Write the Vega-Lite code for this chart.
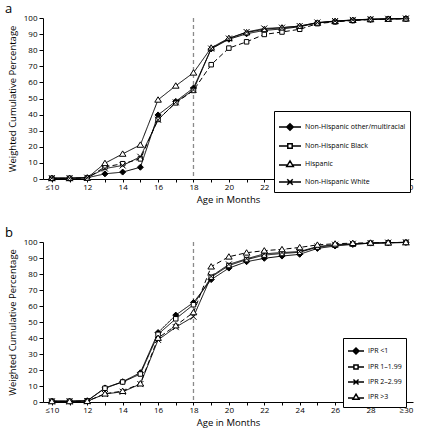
{
"$schema": "https://vega.github.io/schema/vega-lite/v6.json",
"padding": {"left": 5, "top": 3, "right": 5, "bottom": 2},
"background": "white",
"config": {
  "view": {"stroke": null},
  "font": "Open Sans",
  "axis": {"domainColor": "black", "tickColor": "black", "labelColor": "black", "titleColor": "black", "labelFontSize": 8, "titleFontSize": 9.5, "titleFontWeight": "normal", "grid": false, "labelFlush": false, "labelOverlap": false},
  "title": {"fontSize": 13, "fontWeight": "normal", "anchor": "start", "frame": "group", "dx": -38, "offset": -3, "color": "black"},
  "legend": {"title": null, "strokeColor": "black", "fillColor": "white", "labelFontSize": 7, "labelColor": "black", "labelLimit": 300, "labelOffset": 3}
},
"datasets": {
  "a": [
    {"group": "Non-Hispanic other/multiracial", "age": 10, "pct": 0.5}, {"group": "Non-Hispanic other/multiracial", "age": 11, "pct": 0.5}, {"group": "Non-Hispanic other/multiracial", "age": 12, "pct": 0.8}, {"group": "Non-Hispanic other/multiracial", "age": 13, "pct": 3.2}, {"group": "Non-Hispanic other/multiracial", "age": 14, "pct": 4.3}, {"group": "Non-Hispanic other/multiracial", "age": 15, "pct": 7.3}, {"group": "Non-Hispanic other/multiracial", "age": 16, "pct": 39.8}, {"group": "Non-Hispanic other/multiracial", "age": 17, "pct": 48.2}, {"group": "Non-Hispanic other/multiracial", "age": 18, "pct": 56.5}, {"group": "Non-Hispanic other/multiracial", "age": 19, "pct": 80.8}, {"group": "Non-Hispanic other/multiracial", "age": 20, "pct": 86.8}, {"group": "Non-Hispanic other/multiracial", "age": 21, "pct": 90.2}, {"group": "Non-Hispanic other/multiracial", "age": 22, "pct": 92.3}, {"group": "Non-Hispanic other/multiracial", "age": 23, "pct": 93.2}, {"group": "Non-Hispanic other/multiracial", "age": 24, "pct": 94.6}, {"group": "Non-Hispanic other/multiracial", "age": 25, "pct": 96.9}, {"group": "Non-Hispanic other/multiracial", "age": 26, "pct": 97.9}, {"group": "Non-Hispanic other/multiracial", "age": 27, "pct": 98.6}, {"group": "Non-Hispanic other/multiracial", "age": 28, "pct": 99.1}, {"group": "Non-Hispanic other/multiracial", "age": 29, "pct": 99.4}, {"group": "Non-Hispanic other/multiracial", "age": 30, "pct": 99.6},
    {"group": "Non-Hispanic Black", "age": 10, "pct": 0.4}, {"group": "Non-Hispanic Black", "age": 11, "pct": 0.4}, {"group": "Non-Hispanic Black", "age": 12, "pct": 0.6}, {"group": "Non-Hispanic Black", "age": 13, "pct": 7.5}, {"group": "Non-Hispanic Black", "age": 14, "pct": 9.5}, {"group": "Non-Hispanic Black", "age": 15, "pct": 12.5}, {"group": "Non-Hispanic Black", "age": 16, "pct": 37}, {"group": "Non-Hispanic Black", "age": 17, "pct": 47.3}, {"group": "Non-Hispanic Black", "age": 18, "pct": 55}, {"group": "Non-Hispanic Black", "age": 19, "pct": 71}, {"group": "Non-Hispanic Black", "age": 20, "pct": 81.3}, {"group": "Non-Hispanic Black", "age": 21, "pct": 85.2}, {"group": "Non-Hispanic Black", "age": 22, "pct": 89.8}, {"group": "Non-Hispanic Black", "age": 23, "pct": 91.3}, {"group": "Non-Hispanic Black", "age": 24, "pct": 93}, {"group": "Non-Hispanic Black", "age": 25, "pct": 96.5}, {"group": "Non-Hispanic Black", "age": 26, "pct": 97.6}, {"group": "Non-Hispanic Black", "age": 27, "pct": 98.4}, {"group": "Non-Hispanic Black", "age": 28, "pct": 99}, {"group": "Non-Hispanic Black", "age": 29, "pct": 99.3}, {"group": "Non-Hispanic Black", "age": 30, "pct": 99.5},
    {"group": "Hispanic", "age": 10, "pct": 0.5}, {"group": "Hispanic", "age": 11, "pct": 0.5}, {"group": "Hispanic", "age": 12, "pct": 0.7}, {"group": "Hispanic", "age": 13, "pct": 9.8}, {"group": "Hispanic", "age": 14, "pct": 15.6}, {"group": "Hispanic", "age": 15, "pct": 21.2}, {"group": "Hispanic", "age": 16, "pct": 49.2}, {"group": "Hispanic", "age": 17, "pct": 57.9}, {"group": "Hispanic", "age": 18, "pct": 66}, {"group": "Hispanic", "age": 19, "pct": 81.5}, {"group": "Hispanic", "age": 20, "pct": 87.5}, {"group": "Hispanic", "age": 21, "pct": 91}, {"group": "Hispanic", "age": 22, "pct": 93}, {"group": "Hispanic", "age": 23, "pct": 94}, {"group": "Hispanic", "age": 24, "pct": 95}, {"group": "Hispanic", "age": 25, "pct": 97}, {"group": "Hispanic", "age": 26, "pct": 98}, {"group": "Hispanic", "age": 27, "pct": 98.7}, {"group": "Hispanic", "age": 28, "pct": 99.2}, {"group": "Hispanic", "age": 29, "pct": 99.4}, {"group": "Hispanic", "age": 30, "pct": 99.6},
    {"group": "Non-Hispanic White", "age": 10, "pct": 0.5}, {"group": "Non-Hispanic White", "age": 11, "pct": 0.5}, {"group": "Non-Hispanic White", "age": 12, "pct": 0.8}, {"group": "Non-Hispanic White", "age": 13, "pct": 6.5}, {"group": "Non-Hispanic White", "age": 14, "pct": 8.4}, {"group": "Non-Hispanic White", "age": 15, "pct": 13.8}, {"group": "Non-Hispanic White", "age": 16, "pct": 36.8}, {"group": "Non-Hispanic White", "age": 17, "pct": 47.6}, {"group": "Non-Hispanic White", "age": 18, "pct": 55.3}, {"group": "Non-Hispanic White", "age": 19, "pct": 81}, {"group": "Non-Hispanic White", "age": 20, "pct": 87.2}, {"group": "Non-Hispanic White", "age": 21, "pct": 91.3}, {"group": "Non-Hispanic White", "age": 22, "pct": 93.5}, {"group": "Non-Hispanic White", "age": 23, "pct": 94}, {"group": "Non-Hispanic White", "age": 24, "pct": 95}, {"group": "Non-Hispanic White", "age": 25, "pct": 97.2}, {"group": "Non-Hispanic White", "age": 26, "pct": 98.1}, {"group": "Non-Hispanic White", "age": 27, "pct": 98.8}, {"group": "Non-Hispanic White", "age": 28, "pct": 99.3}, {"group": "Non-Hispanic White", "age": 29, "pct": 99.5}, {"group": "Non-Hispanic White", "age": 30, "pct": 99.7}
  ],
  "b": [
    {"group": "IPR <1", "age": 10, "pct": 0.6}, {"group": "IPR <1", "age": 11, "pct": 0.5}, {"group": "IPR <1", "age": 12, "pct": 0.8}, {"group": "IPR <1", "age": 13, "pct": 8.8}, {"group": "IPR <1", "age": 14, "pct": 12.7}, {"group": "IPR <1", "age": 15, "pct": 18.3}, {"group": "IPR <1", "age": 16, "pct": 43.4}, {"group": "IPR <1", "age": 17, "pct": 54.3}, {"group": "IPR <1", "age": 18, "pct": 62.2}, {"group": "IPR <1", "age": 19, "pct": 76.5}, {"group": "IPR <1", "age": 20, "pct": 83.7}, {"group": "IPR <1", "age": 21, "pct": 87.7}, {"group": "IPR <1", "age": 22, "pct": 89.8}, {"group": "IPR <1", "age": 23, "pct": 91.2}, {"group": "IPR <1", "age": 24, "pct": 92.3}, {"group": "IPR <1", "age": 25, "pct": 96}, {"group": "IPR <1", "age": 26, "pct": 97.5}, {"group": "IPR <1", "age": 27, "pct": 98.5}, {"group": "IPR <1", "age": 28, "pct": 99.3}, {"group": "IPR <1", "age": 29, "pct": 99.5}, {"group": "IPR <1", "age": 30, "pct": 99.7},
    {"group": "IPR 1–1.99", "age": 10, "pct": 0.5}, {"group": "IPR 1–1.99", "age": 11, "pct": 0.5}, {"group": "IPR 1–1.99", "age": 12, "pct": 0.7}, {"group": "IPR 1–1.99", "age": 13, "pct": 8.6}, {"group": "IPR 1–1.99", "age": 14, "pct": 12.5}, {"group": "IPR 1–1.99", "age": 15, "pct": 17.5}, {"group": "IPR 1–1.99", "age": 16, "pct": 42.3}, {"group": "IPR 1–1.99", "age": 17, "pct": 52}, {"group": "IPR 1–1.99", "age": 18, "pct": 60.8}, {"group": "IPR 1–1.99", "age": 19, "pct": 78}, {"group": "IPR 1–1.99", "age": 20, "pct": 85.3}, {"group": "IPR 1–1.99", "age": 21, "pct": 89}, {"group": "IPR 1–1.99", "age": 22, "pct": 91.8}, {"group": "IPR 1–1.99", "age": 23, "pct": 92.8}, {"group": "IPR 1–1.99", "age": 24, "pct": 93.6}, {"group": "IPR 1–1.99", "age": 25, "pct": 96.8}, {"group": "IPR 1–1.99", "age": 26, "pct": 98}, {"group": "IPR 1–1.99", "age": 27, "pct": 98.7}, {"group": "IPR 1–1.99", "age": 28, "pct": 99.2}, {"group": "IPR 1–1.99", "age": 29, "pct": 99.5}, {"group": "IPR 1–1.99", "age": 30, "pct": 99.7},
    {"group": "IPR 2–2.99", "age": 10, "pct": 0.4}, {"group": "IPR 2–2.99", "age": 11, "pct": 0.4}, {"group": "IPR 2–2.99", "age": 12, "pct": 0.5}, {"group": "IPR 2–2.99", "age": 13, "pct": 5}, {"group": "IPR 2–2.99", "age": 14, "pct": 6.4}, {"group": "IPR 2–2.99", "age": 15, "pct": 11.2}, {"group": "IPR 2–2.99", "age": 16, "pct": 38.8}, {"group": "IPR 2–2.99", "age": 17, "pct": 46.8}, {"group": "IPR 2–2.99", "age": 18, "pct": 53.3}, {"group": "IPR 2–2.99", "age": 19, "pct": 78.5}, {"group": "IPR 2–2.99", "age": 20, "pct": 86}, {"group": "IPR 2–2.99", "age": 21, "pct": 89.5}, {"group": "IPR 2–2.99", "age": 22, "pct": 92.6}, {"group": "IPR 2–2.99", "age": 23, "pct": 93.4}, {"group": "IPR 2–2.99", "age": 24, "pct": 94}, {"group": "IPR 2–2.99", "age": 25, "pct": 97.2}, {"group": "IPR 2–2.99", "age": 26, "pct": 98.3}, {"group": "IPR 2–2.99", "age": 27, "pct": 98.9}, {"group": "IPR 2–2.99", "age": 28, "pct": 99.3}, {"group": "IPR 2–2.99", "age": 29, "pct": 99.6}, {"group": "IPR 2–2.99", "age": 30, "pct": 99.8},
    {"group": "IPR >3", "age": 10, "pct": 0.4}, {"group": "IPR >3", "age": 11, "pct": 0.4}, {"group": "IPR >3", "age": 12, "pct": 0.5}, {"group": "IPR >3", "age": 13, "pct": 5.2}, {"group": "IPR >3", "age": 14, "pct": 6.8}, {"group": "IPR >3", "age": 15, "pct": 11.5}, {"group": "IPR >3", "age": 16, "pct": 40}, {"group": "IPR >3", "age": 17, "pct": 47.8}, {"group": "IPR >3", "age": 18, "pct": 56}, {"group": "IPR >3", "age": 19, "pct": 84.6}, {"group": "IPR >3", "age": 20, "pct": 90.8}, {"group": "IPR >3", "age": 21, "pct": 93.3}, {"group": "IPR >3", "age": 22, "pct": 94.6}, {"group": "IPR >3", "age": 23, "pct": 95.4}, {"group": "IPR >3", "age": 24, "pct": 96.6}, {"group": "IPR >3", "age": 25, "pct": 98.2}, {"group": "IPR >3", "age": 26, "pct": 98.9}, {"group": "IPR >3", "age": 27, "pct": 99.3}, {"group": "IPR >3", "age": 28, "pct": 99.5}, {"group": "IPR >3", "age": 29, "pct": 99.6}, {"group": "IPR >3", "age": 30, "pct": 99.8}
  ],
  "cut": [{"age": 18}]
},
"spacing": 23,
"resolve": {"scale": {"shape": "independent", "fill": "independent", "strokeDash": "independent"}, "legend": {"shape": "independent", "fill": "independent", "strokeDash": "independent"}},
"vconcat": [
  {
    "title": {"text": "a"},
    "width": 370, "height": 161,
    "data": {"name": "a"},
    "encoding": {
      "x": {"field": "age", "type": "quantitative", "scale": {"domain": [9.5, 30.4], "nice": false, "zero": false},
        "axis": {"values": [10,11,12,13,14,15,16,17,18,19,20,21,22,23,24,25,26,27,28,29,30], "labelExpr": "datum.value == 10 ? '≤10' : datum.value == 30 ? '≥30' : (datum.value % 2 == 0 ? datum.label : '')", "title": "Age in Months", "tickSize": 3, "labelPadding": 1, "titlePadding": 3}},
      "y": {"field": "pct", "type": "quantitative", "scale": {"domain": [0, 100], "nice": false},
        "axis": {"values": [0,10,20,30,40,50,60,70,80,90,100], "title": "Weighted Cumulative Percentage", "tickSize": 4, "labelPadding": 2, "titlePadding": 6}}
    },
    "resolve": {"scale": {"shape": "independent"}, "legend": {"shape": "independent"}},
    "layer": [
      {"data": {"name": "cut"}, "mark": {"type": "rule", "color": "#8a8a8a", "strokeDash": [4, 3], "strokeWidth": 1.3}, "encoding": {"y": {"value": 0}, "y2": {"value": 161}}},
      {"mark": {"type": "line", "color": "black", "strokeWidth": 1},
       "encoding": {"detail": {"field": "group"},
         "strokeDash": {"field": "group", "type": "nominal", "scale": {"domain": ["Non-Hispanic Black", "Hispanic", "Non-Hispanic White", "Non-Hispanic other/multiracial"], "range": [[5, 3], [1, 0], [1, 0], [1, 0]]}, "legend": null}}},
      {"mark": {"type": "point", "filled": true, "stroke": "black", "strokeWidth": 1, "size": 36, "opacity": 1},
       "encoding": {
         "shape": {"field": "group", "type": "nominal", "scale": {"domain": ["Non-Hispanic other/multiracial", "Non-Hispanic Black", "Hispanic", "Non-Hispanic White"], "range": ["M0,-1L1,0L0,1L-1,0Z", "M-0.75,-0.75H0.75V0.75H-0.75Z", "M0,-1L1.1,0.8H-1.1Z", "M-1,-1L1,1M-1,1L1,-1"]}, "legend": null},
         "fill": {"field": "group", "type": "nominal", "scale": {"domain": ["Hispanic", "Non-Hispanic White", "Non-Hispanic Black", "Non-Hispanic other/multiracial"], "range": ["white", "white", "white", "black"]}, "legend": null}
       }},
      {"transform": [{"filter": "datum.age > 100"}],
       "mark": {"type": "point", "filled": true, "fill": "white", "stroke": "black", "strokeWidth": 1.1, "size": 484, "opacity": 1},
       "encoding": {
         "shape": {"field": "group", "type": "nominal", "scale": {"domain": ["Non-Hispanic other/multiracial", "Non-Hispanic Black", "Hispanic", "Non-Hispanic White"], "range": [
           "M-1,0L-0.3,0M0.3,0L1,0M0,-0.3L0.3,0L0,0.3L-0.3,0ZM0,-0.17L0.17,0L0,0.17L-0.17,0ZM-0.06,0L0.06,0",
           "M-1,0L-0.2,0M0.2,0L1,0M-0.2,-0.2L0.2,-0.2L0.2,0.2L-0.2,0.2Z",
           "M-1,0.1L-0.23,0.1M0.23,0.1L1,0.1M0,-0.28L0.3,0.22L-0.3,0.22Z",
           "M-1,0L1,0M-0.25,-0.25L0.25,0.25M-0.25,0.25L0.25,-0.25"]},
           "legend": {"orient": "none", "legendX": 231, "legendY": 93, "padding": 4, "symbolSize": 484, "rowPadding": -7}}
       }}
    ]
  },
  {
    "title": {"text": "b"},
    "width": 370, "height": 160,
    "data": {"name": "b"},
    "encoding": {
      "x": {"field": "age", "type": "quantitative", "scale": {"domain": [9.5, 30.4], "nice": false, "zero": false},
        "axis": {"values": [10,11,12,13,14,15,16,17,18,19,20,21,22,23,24,25,26,27,28,29,30], "labelExpr": "datum.value == 10 ? '≤10' : datum.value == 30 ? '≥30' : (datum.value % 2 == 0 ? datum.label : '')", "title": "Age in Months", "tickSize": 3, "labelPadding": 1, "titlePadding": 3}},
      "y": {"field": "pct", "type": "quantitative", "scale": {"domain": [0, 100], "nice": false},
        "axis": {"values": [0,10,20,30,40,50,60,70,80,90,100], "title": "Weighted Cumulative Percentage", "tickSize": 4, "labelPadding": 2, "titlePadding": 6}}
    },
    "resolve": {"scale": {"shape": "independent"}, "legend": {"shape": "independent"}},
    "layer": [
      {"data": {"name": "cut"}, "mark": {"type": "rule", "color": "#8a8a8a", "strokeDash": [4, 3], "strokeWidth": 1.3}, "encoding": {"y": {"value": 0}, "y2": {"value": 160}}},
      {"mark": {"type": "line", "color": "black", "strokeWidth": 1},
       "encoding": {"detail": {"field": "group"},
         "strokeDash": {"field": "group", "type": "nominal", "scale": {"domain": ["IPR >3", "IPR <1", "IPR 1–1.99", "IPR 2–2.99"], "range": [[5, 3], [1, 0], [1, 0], [1, 0]]}, "legend": null}}},
      {"mark": {"type": "point", "filled": true, "stroke": "black", "strokeWidth": 1, "size": 36, "opacity": 1},
       "encoding": {
         "shape": {"field": "group", "type": "nominal", "scale": {"domain": ["IPR <1", "IPR 1–1.99", "IPR 2–2.99", "IPR >3"], "range": ["M0,-1L1,0L0,1L-1,0Z", "M-0.75,-0.75H0.75V0.75H-0.75Z", "M-1,-1L1,1M-1,1L1,-1", "M0,-1L1.1,0.8H-1.1Z"]}, "legend": null},
         "fill": {"field": "group", "type": "nominal", "scale": {"domain": ["IPR 2–2.99", "IPR >3", "IPR 1–1.99", "IPR <1"], "range": ["white", "white", "white", "black"]}, "legend": null}
       }},
      {"transform": [{"filter": "datum.age > 100"}],
       "mark": {"type": "point", "filled": true, "fill": "white", "stroke": "black", "strokeWidth": 1, "size": 256, "opacity": 1},
       "encoding": {
         "shape": {"field": "group", "type": "nominal", "scale": {"domain": ["IPR <1", "IPR 1–1.99", "IPR 2–2.99", "IPR >3"], "range": [
           "M-1,0L-0.38,0M0.38,0L1,0M0,-0.38L0.38,0L0,0.38L-0.38,0ZM0,-0.22L0.22,0L0,0.22L-0.22,0ZM-0.08,0L0.08,0",
           "M-1,0L-0.26,0M0.26,0L1,0M-0.26,-0.26L0.26,-0.26L0.26,0.26L-0.26,0.26Z",
           "M-1,0L1,0M-0.32,-0.32L0.32,0.32M-0.32,0.32L0.32,-0.32",
           "M-1,0.12L-0.29,0.12M0.29,0.12L1,0.12M0,-0.36L0.38,0.28L-0.38,0.28Z"]},
           "legend": {"orient": "none", "legendX": 300, "legendY": 96, "padding": 4, "symbolSize": 256, "rowPadding": -3}}
       }}
    ]
  }
]
}
